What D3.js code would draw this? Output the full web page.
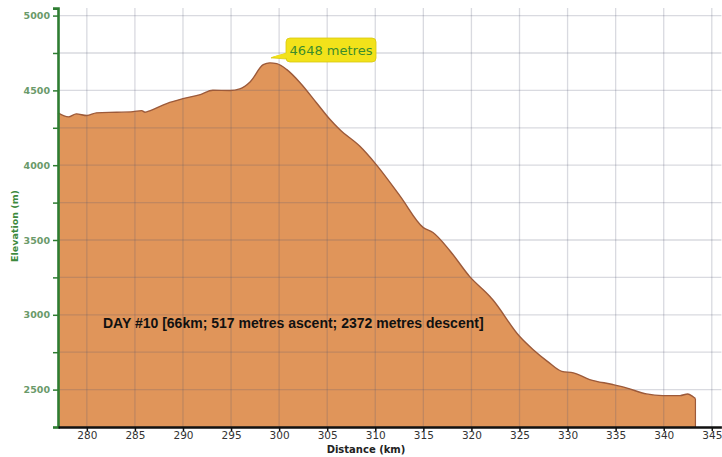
<!DOCTYPE html>
<html><head><meta charset="utf-8">
<script src="https://cdn.jsdelivr.net/npm/d3@7"></script>
<style>html,body{margin:0;padding:0;background:#fff;}svg{display:block;}</style>
</head><body>
<script>
// Data
const distanceKm = [277.0,278.1,278.9,280.0,281.0,283.1,284.8,285.7,286.05,286.6,288.3,290.0,291.8,293.1,294.9,295.9,297.0,298.35,299.05,299.75,300.8,302.2,303.9,305.3,306.3,308.4,310.1,312.6,315.0,316.0,317.8,319.8,321.9,322.2,325.0,326.4,327.9,329.4,330.6,332.3,334.7,336.1,338.2,339.9,341.7,342.5,343.0,343.3];
const elevationM = [4350,4323,4343,4332,4350,4354,4358,4365,4354,4365,4412,4445,4472,4501,4499,4510,4558,4672,4684,4679,4639,4550,4416,4305,4238,4126,4004,3792,3583,3550,3425,3257,3124,3102,2856,2768,2689,2622,2612,2567,2534,2512,2471,2460,2460,2471,2455,2440];
const xTicks = [280,285,290,295,300,305,310,315,320,325,330,335,340,345];
const yTicks = [2500,3000,3500,4000,4500,5000];
const yMinorTicks = [2250,2500,2750,3000,3250,3500,3750,4000,4250,4500,4750,5000];
const peakLabel = "4648 metres";
const peakIndex = 18;
const dayText = "DAY #10 [66km; 517 metres ascent; 2372 metres descent]";

const W = 722, H = 457;
const svg = d3.select("body").append("svg").attr("width", W).attr("height", H);

const x = d3.scaleLinear().domain([277, 346]).range([58, 721.4]);
const y = d3.scaleLinear().domain([2250, 5050]).range([427, 8.1]);

const data = distanceKm.map((d, i) => ({d, e: elevationM[i]}));

const area = d3.area().x(p => x(p.d)).y0(y(2250)).y1(p => y(p.e)).curve(d3.curveMonotoneX);
const line = d3.line().x(p => x(p.d)).y(p => y(p.e)).curve(d3.curveMonotoneX);

svg.append("path").datum(data).attr("d", area).attr("fill", "#e0955a");
svg.append("line").attr("x1", x(343.3)).attr("x2", x(343.3))
  .attr("y1", y(2440)).attr("y2", y(2250)).attr("stroke", "#9c5a3a").attr("stroke-width", 1.2);

// gridlines (on top, translucent)
const grid = svg.append("g").attr("stroke", "rgba(80,85,115,0.22)").attr("stroke-width", 1.3);
xTicks.forEach(t => grid.append("line").attr("x1", x(t)).attr("x2", x(t)).attr("y1", y(5050)).attr("y2", y(2250)));
yMinorTicks.filter(t => t > 2250).forEach(t => grid.append("line").attr("x1", x(277)).attr("x2", x(346)).attr("y1", y(t)).attr("y2", y(t)));

svg.append("path").datum(data).attr("d", line).attr("fill", "none")
  .attr("stroke", "#9c5a3a").attr("stroke-width", 1.4);

// y axis
const yAxis = d3.axisLeft(y).tickValues(yMinorTicks).tickSize(5)
  .tickFormat(v => yTicks.includes(v) ? String(v) : "");
const gy = svg.append("g").attr("transform", `translate(${x(277)},0)`).call(yAxis);
gy.select(".domain").attr("stroke", "#2e7d32").attr("stroke-width", 2.6);
gy.selectAll(".tick line").attr("stroke", "#2e7d32").attr("stroke-width", 1.5);
gy.selectAll(".tick text").attr("fill", "#6a9a6a").attr("font-family", "DejaVu Sans, Verdana, sans-serif")
  .attr("font-size", 9.5).attr("font-weight", "bold").attr("x", -8);

// x axis
const xAxis = d3.axisBottom(x).tickValues(xTicks).tickSize(4).tickSizeOuter(0);
const gx = svg.append("g").attr("transform", `translate(0,${y(2250)})`).call(xAxis);
gx.select(".domain").attr("stroke", "#111").attr("stroke-width", 2.6);
gx.selectAll(".tick line").attr("stroke", "#111").attr("stroke-width", 1.5);
gx.selectAll(".tick text").attr("fill", "#333").attr("font-family", "DejaVu Sans, Verdana, sans-serif")
  .attr("font-size", 10.5).attr("y", 5);

// axis titles
svg.append("text").attr("x", 366).attr("y", 453).attr("text-anchor", "middle")
  .attr("font-family", "DejaVu Sans, Verdana, sans-serif").attr("font-size", 10).attr("font-weight", "bold")
  .attr("fill", "#222").text("Distance (km)");
svg.append("text").attr("transform", "translate(18,226) rotate(-90)").attr("text-anchor", "middle")
  .attr("font-family", "DejaVu Sans, Verdana, sans-serif").attr("font-size", 9.5).attr("font-weight", "bold")
  .attr("fill", "#3d8a3d").text("Elevation (m)");

// annotation
svg.append("text").attr("x", 103).attr("y", 328)
  .attr("font-family", "Liberation Sans, Arial, sans-serif").attr("font-size", 14).attr("font-weight", "bold")
  .attr("fill", "#111").text(dayText);

// peak callout
const px = x(distanceKm[peakIndex]) + 1, py = y(elevationM[peakIndex]) - 5;
const bx = 286, by = 38, bw = 90, bh = 24;
svg.append("path")
  .attr("d", `M${px},${py} L${bx + 4},${by + bh - 10} L${bx + 14},${by + bh - 2} Z`)
  .attr("fill", "#f2e21a").attr("stroke", "#d8c810").attr("stroke-width", 0.8);
svg.append("rect").attr("x", bx).attr("y", by).attr("width", bw).attr("height", bh).attr("rx", 4)
  .attr("fill", "#f2e21a").attr("stroke", "#d8c810").attr("stroke-width", 0.8);
svg.append("path")
  .attr("d", `M${px+1},${py-1} L${bx + 5},${by + bh - 10} L${bx + 13},${by + bh - 3} Z`)
  .attr("fill", "#f2e21a");
svg.append("text").attr("x", bx + bw / 2).attr("y", by + 17).attr("text-anchor", "middle")
  .attr("font-family", "DejaVu Sans, Verdana, sans-serif").attr("font-size", 13)
  .attr("fill", "#3c8c2c").text(peakLabel);
</script>
</body></html>
